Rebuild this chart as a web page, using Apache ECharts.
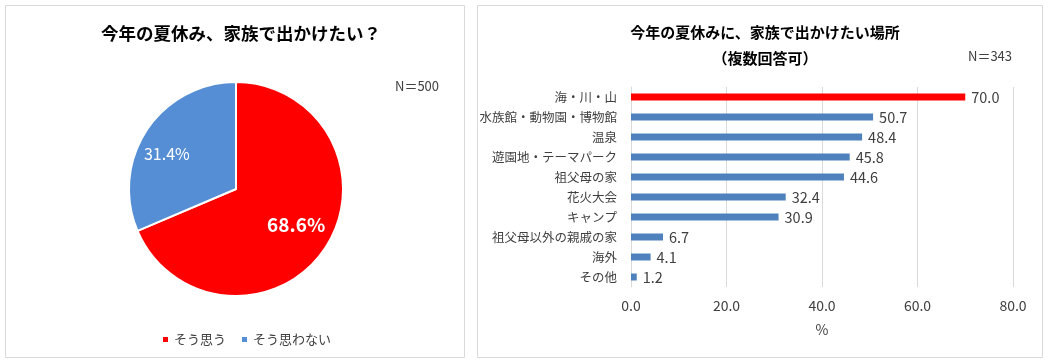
<!DOCTYPE html>
<html>
<head>
<meta charset="utf-8">
<script src="https://cdn.jsdelivr.net/npm/echarts@6/dist/echarts.min.js"></script>
<style>
html,body{margin:0;padding:0;background:#fff;}
#c{width:1049px;height:364px;}
</style>
</head>
<body>
<div id="c"></div>
<script>
const pieCategories = ['そう思う', 'そう思わない'];
const pieValues = [68.6, 31.4];
const barCategories = ['海・川・山', '水族館・動物園・博物館', '温泉', '遊園地・テーマパーク', '祖父母の家', '花火大会', 'キャンプ', '祖父母以外の親戚の家', '海外', 'その他'];
const barValues = [70.0, 50.7, 48.4, 45.8, 44.6, 32.4, 30.9, 6.7, 4.1, 1.2];
const xTicks = [0, 20, 40, 60, 80];

const FONT = '"Noto Sans CJK JP", "Noto Sans", sans-serif';
const chart = echarts.init(document.getElementById('c'));
const RED = '#ff0000', PIE_BLUE = '#558ed5', BAR_BLUE = '#4f81bd';

chart.setOption({
  animation: false,
  textStyle: { fontFamily: FONT },
  graphic: [
    { type: 'rect', shape: { x: 5.5, y: 5.5, width: 459, height: 352 }, style: { fill: 'none', stroke: '#d9d9d9', lineWidth: 1 } },
    { type: 'rect', shape: { x: 477.5, y: 5.5, width: 565, height: 352 }, style: { fill: 'none', stroke: '#d9d9d9', lineWidth: 1 } },
    { type: 'text', left: 395, top: 80, style: { text: 'N＝500', font: '13px ' + FONT, fill: '#404040' } },
    { type: 'text', left: 968, top: 50, style: { text: 'N＝343', font: '13px ' + FONT, fill: '#404040' } }
  ],
  title: [
    { text: '今年の夏休み、家族で出かけたい？', left: 236, top: 20, textAlign: 'center',
      textStyle: { fontSize: 17.5, fontWeight: 'bold', color: '#000', fontFamily: FONT } },
    { text: '今年の夏休みに、家族で出かけたい場所\n（複数回答可）', left: 760, top: 14, textAlign: 'center',
      textStyle: { fontSize: 15, fontWeight: 'bold', color: '#000', lineHeight: 26, fontFamily: FONT } }
  ],
  legend: {
    data: pieCategories, left: 156, top: 328,
    itemWidth: 7, itemHeight: 7, itemGap: 14, icon: 'rect',
    textStyle: { fontSize: 13, color: '#404040', fontFamily: FONT }
  },
  grid: { left: 631, right: 36, top: 87, height: 200, containLabel: false },
  xAxis: {
    type: 'value', min: 0, max: 80, interval: 20,
    name: '%', nameLocation: 'middle', nameGap: 36,
    nameTextStyle: { fontSize: 14, color: '#404040' },
    axisLine: { show: false }, axisTick: { show: false },
    axisLabel: { fontSize: 14, color: '#404040', margin: 12, formatter: v => xTicks.includes(v) ? v.toFixed(1) : '' },
    splitLine: { lineStyle: { color: '#d9d9d9' } }
  },
  yAxis: {
    type: 'category', data: barCategories, inverse: true,
    axisLine: { lineStyle: { color: '#d9d9d9' } }, axisTick: { show: false },
    axisLabel: { fontSize: 12.5, color: '#404040', margin: 14 }
  },
  series: [
    {
      type: 'pie', center: [236, 189], radius: 107, startAngle: 90, clockwise: true,
      data: pieCategories.map((n, i) => ({ name: n, value: pieValues[i],
        itemStyle: { color: i === 0 ? RED : PIE_BLUE },
        label: i === 0 ? { fontSize: 19, fontWeight: 'bold' } : { fontSize: 16 } })),
      itemStyle: { borderColor: '#fff', borderWidth: 2 },
      label: { position: 'inside', color: '#fff', formatter: p => p.value.toFixed(1) + '%' },
      labelLine: { show: false },
      labelLayout: p => p.dataIndex === 0 ? { dx: 13, dy: 5 } : { dx: -22, dy: -4 }
    },
    {
      type: 'bar', barWidth: 7,
      data: barValues.map((v, i) => ({ value: v, itemStyle: { color: i === 0 ? RED : BAR_BLUE } })),
      label: { show: true, position: 'right', distance: 6, fontSize: 14.5, color: '#404040', formatter: p => p.value.toFixed(1) }
    }
  ]
});
</script>
</body>
</html>
